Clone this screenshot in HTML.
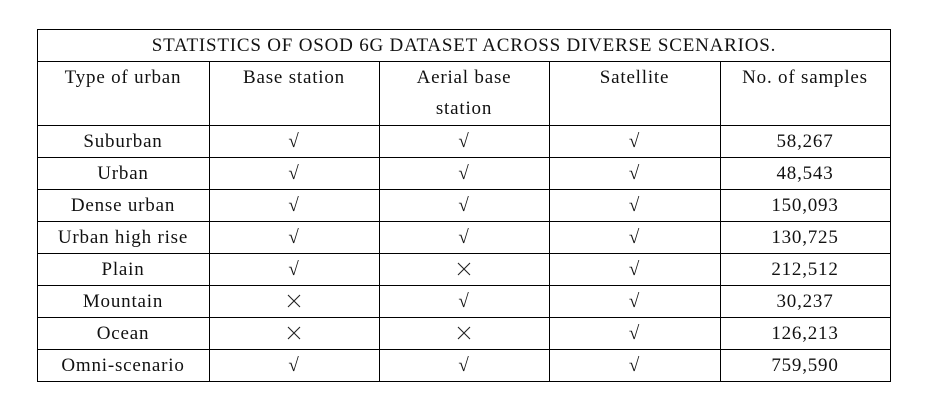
<!DOCTYPE html>
<html><head><meta charset="utf-8"><style>
body{margin:0;width:926px;height:414px;background:#fff;position:relative;overflow:hidden;font-family:"Liberation Serif",serif;color:#111}
.h{position:absolute;height:1px;background:#000}
.v{position:absolute;width:1px;background:#000}
.t{position:absolute;text-align:center;font-size:19px;letter-spacing:0.8px;line-height:20px;white-space:nowrap}
.t svg{vertical-align:-1px}
</style></head><body>
<div id="tbl"></div>
<script>
const root=document.getElementById('tbl');
const rows=["Suburban","Urban","Dense urban","Urban high rise","Plain","Mountain","Ocean","Omni-scenario"];
const base=[1,1,1,1,1,0,0,1];
const aerial=[1,1,1,1,0,1,0,1];
const sat=[1,1,1,1,1,1,1,1];
const samples=["58,267","48,543","150,093","130,725","212,512","30,237","126,213","759,590"];
const cols=[37,209,379,549,720,890];
const hl=[29,61,125,157,189,221,253,285,317,349,381];
function add(cls,style,text,name){const d=document.createElement('div');d.className=cls;d.style.cssText=style;if(text!=null)d.textContent=text;


root.appendChild(d);return d;}
hl.forEach((y,i)=>add('h',`left:37px;top:${y}px;width:854px`,null,'row-border-'+i));
cols.forEach((x,i)=>add('v',`left:${x}px;top:${i==0||i==5?29:61}px;height:${i==0||i==5?353:321}px`,null,'column-border-'+i));
add('t',`left:37px;width:854px;top:36px`,'STATISTICS OF OSOD 6G DATASET ACROSS DIVERSE SCENARIOS.','table-title');
const heads=["Type of urban","Base station","Aerial base","Satellite","No. of samples"];
heads.forEach((h,i)=>add('t',`left:${cols[i]}px;width:${cols[i+1]-cols[i]}px;top:68px`,h,'header-'+i));
add('t',`left:379px;width:170px;top:99px`,'station','header-aerial-line2');
rows.forEach((r,i)=>{const top=hl[i+2]+7;
add('t',`left:37px;width:172px;top:${top}px`,r,'row-label');
[base,aerial,sat].forEach((a,j)=>{const d=add('t',`left:${cols[j+1]}px;width:${cols[j+2]-cols[j+1]}px;top:${top}px`,a[i]?'√':null,'mark-cell');
if(!a[i])d.innerHTML='<span style="position:absolute;left:-9999px">×</span><svg width="14" height="14" viewBox="0 0 14 14"><path d="M1 1L13 13M13 1L1 13" stroke="#222" stroke-width="1.1" fill="none"/></svg>';});
add('t',`left:720px;width:170px;top:${top}px`,samples[i],'samples-cell');});
</script>
</body></html>
